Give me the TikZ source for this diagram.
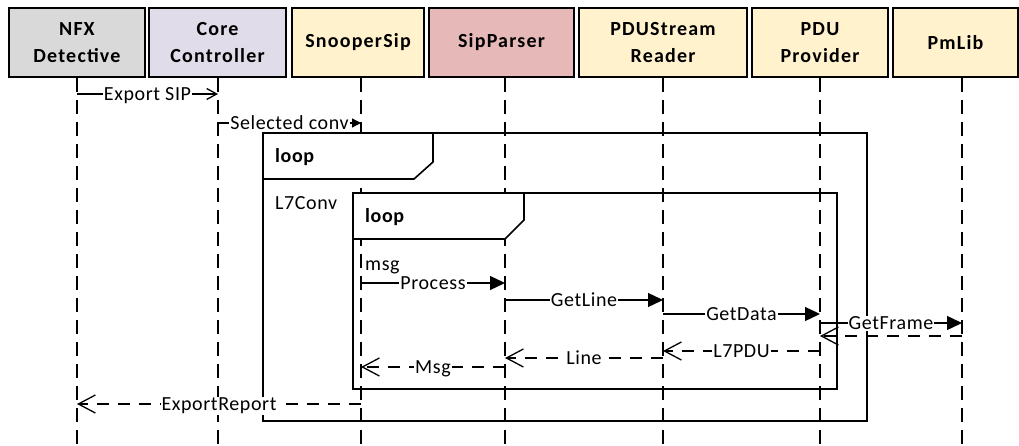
\documentclass[tikz,border=0pt]{standalone}
\usepackage{fontspec}
\setmainfont{Carlito}
\usetikzlibrary{arrows.meta}
\definecolor{cgray}{HTML}{D9D9D9}
\definecolor{clav}{HTML}{E0DCEA}
\definecolor{cyel}{HTML}{FFF2CC}
\definecolor{cpink}{HTML}{E6B9B8}
\begin{document}
\begin{tikzpicture}[x=1pt,y=-1pt,
  head/.style={draw=black, line width=2pt, align=center, inner sep=0pt, minimum height=69pt,
    font=\fontsize{20}{26.5}\selectfont\bfseries\addfontfeature{LetterSpace=6}},
  life/.style={line width=1.6pt, dash pattern=on 14pt off 8pt},
  frm/.style={line width=1.6pt},
  msgline/.style={line width=1.3pt},
  call/.style={msgline, -{Triangle[length=15pt,width=14pt]}},
  ret/.style={msgline, dash pattern=on 12pt off 9pt, -{Straight Barb[length=17pt,width=18pt]}},
  lbl/.style={fill=white, inner sep=1pt, anchor=base, yshift=-6.5pt,
    font=\fontsize{20}{24}\selectfont\addfontfeature{LetterSpace=3}},
  txt/.style={inner sep=0pt, anchor=base west, font=\fontsize{20}{24}\selectfont\addfontfeature{LetterSpace=3}},
  btxt/.style={txt, font=\fontsize{20}{24}\selectfont\bfseries\addfontfeature{LetterSpace=3}}
]
\useasboundingbox (0,0) rectangle (1019,446);
% heads
\node[head, fill=cgray, minimum width=136pt] (nfx) at (77,42.5) {NFX\\Detective};
\node[head, fill=clav, minimum width=137pt] (core) at (217.5,42.5) {Core\\Controller};
\node[head, fill=cyel, minimum width=132pt] (snoop) at (358,42.5) {SnooperSip};
\node[head, fill=cpink, minimum width=145pt] (sipp) at (501.5,42.5) {SipParser};
\node[head, fill=cyel, minimum width=168pt] (pdus) at (663,42.5) {PDUStream\\Reader};
\node[head, fill=cyel, minimum width=136pt] (pdup) at (820,42.5) {PDU\\Provider};
\node[head, fill=cyel, minimum width=125pt] (pmlib) at (955.5,42.5) {PmLib};
% lifeline anchors
\coordinate (nfxL) at (77,78);
\coordinate (coreL) at (218,78);
\coordinate (snoopL) at (361,78);
\coordinate (sippL) at (505,78);
\coordinate (pdusL) at (663,78);
\coordinate (pdupL) at (820,78);
\coordinate (pmlibL) at (962,78);
\foreach \l in {nfxL,coreL,snoopL,sippL,pdusL,pdupL,pmlibL}
  \draw[life] (\l) -- (\l |- 0,446);
% outer loop frame
\draw[frm] (263,133) rectangle (867,421);
\draw[frm, fill=white] (263,133) -- (433,133) -- (433,162) -- (414,179) -- (263,179) -- cycle;
\node[btxt] (loop1) at (275,163) {loop};
\node[txt] (l7conv) at (275,210) {L7Conv};
% inner loop frame
\draw[frm] (353,193) rectangle (837,389);
\draw[frm, fill=white] (353,193) -- (524,193) -- (524,220) -- (505,239) -- (353,239) -- cycle;
\node[btxt] (loop2) at (365,223) {loop};
\node[txt] (msgg) at (365,270) {msg};
% messages
\draw[msgline, -{Straight Barb[length=10pt,width=11pt]}] (nfxL |- 0,94) -- node[lbl]{Export SIP} (coreL |- 0,94);
\draw[msgline, -{Triangle[length=9pt,width=9pt]}] (coreL |- 0,123) -- node[lbl]{Selected conv} (snoopL |- 0,123);
\draw[call] (snoopL |- 0,283) -- node[lbl]{Process} (sippL |- 0,283);
\draw[call] (sippL |- 0,300) -- node[lbl]{GetLine} (pdusL |- 0,300);
\draw[call] (pdusL |- 0,314) -- node[lbl]{GetData} (pdupL |- 0,314);
\draw[call] (pdupL |- 0,323) -- node[lbl]{GetFrame} (pmlibL |- 0,323);
\draw[ret] (pmlibL |- 0,336) -- (pdupL |- 0,336);
\draw[ret] (pdupL |- 0,351) -- node[lbl]{L7PDU} (pdusL |- 0,351);
\draw[ret] (pdusL |- 0,358) -- node[lbl]{Line} (sippL |- 0,358);
\draw[ret] (sippL |- 0,367) -- node[lbl]{Msg} (snoopL |- 0,367);
\draw[ret] (snoopL |- 0,404) -- node[lbl]{ExportReport} (nfxL |- 0,404);
\end{tikzpicture}
\end{document}
